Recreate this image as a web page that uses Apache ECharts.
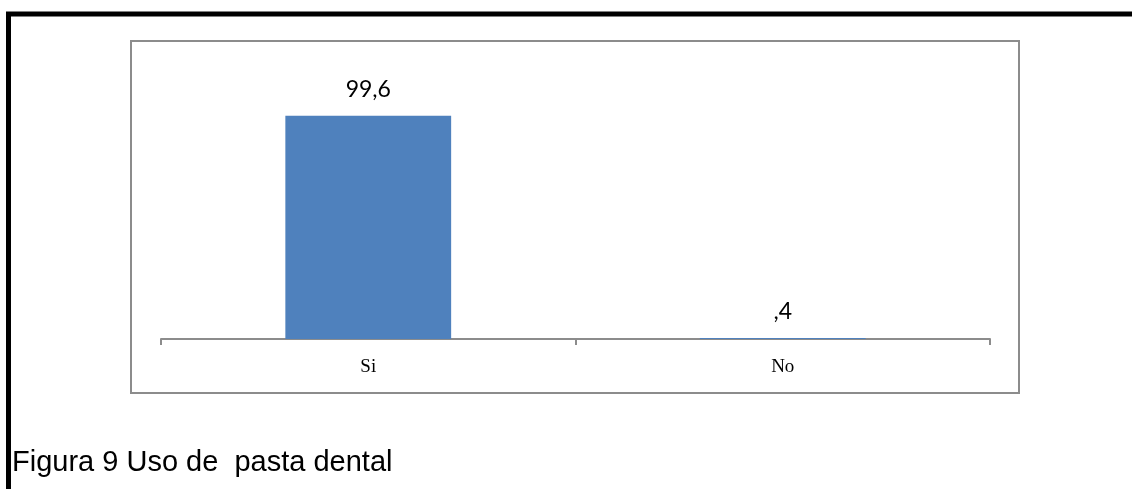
<!DOCTYPE html>
<html>
<head>
<meta charset="utf-8">
<script src="https://cdn.jsdelivr.net/npm/echarts@6/dist/echarts.min.js"></script>
<style>
  html, body { margin: 0; padding: 0; background: #ffffff; }
  #chart { width: 1132px; height: 489px; }
</style>
</head>
<body>
<div id="chart"></div>
<script>
// Uso de pasta dental (%)
const categories = ['Si', 'No'];
const values = [99.6, 0.4];
const valueLabels = ['99,6', ',4'];
const caption = 'Figura 9 Uso de  pasta dental';

const chart = echarts.init(document.getElementById('chart'), null, { renderer: 'canvas' });

chart.setOption({
  backgroundColor: '#ffffff',
  animation: false,
  graphic: [
    // outer black frame (top and left edges)
    { type: 'line', shape: { x1: 6, y1: 14, x2: 1132, y2: 14 }, style: { stroke: '#000', lineWidth: 5 }, z: 10 },
    { type: 'line', shape: { x1: 8.5, y1: 12, x2: 8.5, y2: 489 }, style: { stroke: '#000', lineWidth: 5 }, z: 10 },
    // chart area border
    { type: 'rect', shape: { x: 131, y: 41, width: 888, height: 352 }, style: { fill: 'none', stroke: '#8c8c8c', lineWidth: 2 }, z: 1 },
    // caption
    { type: 'text', left: 12, top: 448, style: { text: caption, font: '29px "Liberation Sans", Arial, sans-serif', fill: '#000' }, z: 10 }
  ],
  grid: { left: 161, right: 142, top: 70, bottom: 150, containLabel: false },
  xAxis: {
    type: 'category',
    data: categories,
    axisLine: { show: true, lineStyle: { color: '#8c8c8c', width: 2 } },
    axisTick: { show: true, length: 6, alignWithLabel: false, lineStyle: { color: '#8c8c8c', width: 2 } },
    axisLabel: { margin: 19, fontFamily: '"Liberation Serif", "Times New Roman", serif', fontSize: 19, color: '#000' }
  },
  yAxis: {
    type: 'value',
    min: 0,
    max: 120,
    show: false,
    splitLine: { show: false }
  },
  series: [{
    type: 'bar',
    data: values,
    barWidth: '40%',
    itemStyle: { color: '#4f81bd' },
    label: {
      show: true,
      position: 'top',
      distance: 15,
      formatter: (p) => valueLabels[p.dataIndex],
      fontFamily: 'Lato, "Open Sans", sans-serif',
      fontSize: 23,
      color: '#000'
    }
  }]
});
</script>
</body>
</html>
